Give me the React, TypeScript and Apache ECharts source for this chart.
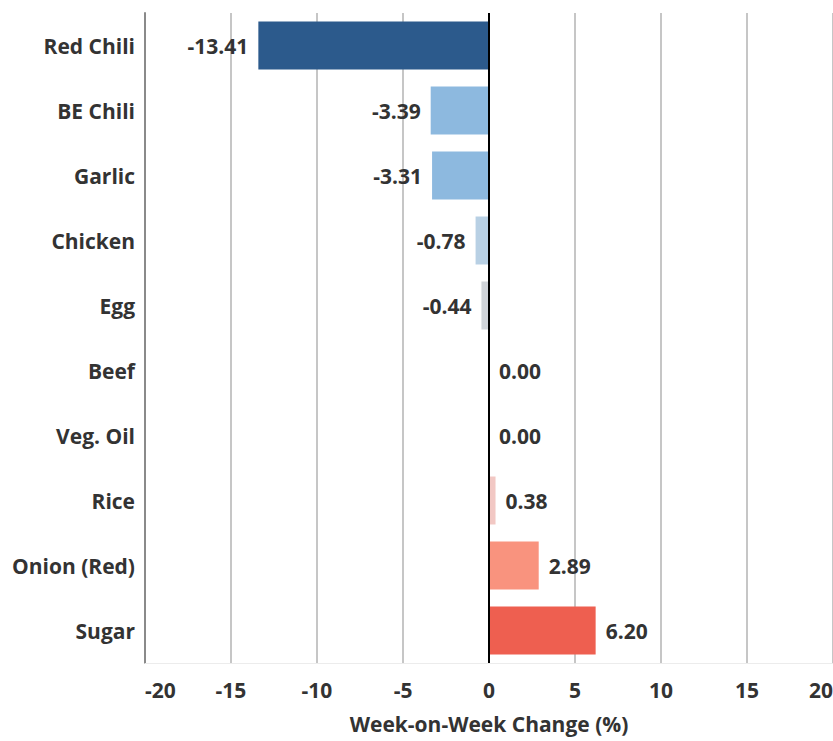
import React, { useEffect, useRef } from "react";
import * as echarts from "echarts";

const categories = [
  "Red Chili",
  "BE Chili",
  "Garlic",
  "Chicken",
  "Egg",
  "Beef",
  "Veg. Oil",
  "Rice",
  "Onion (Red)",
  "Sugar",
];

const changes = [-13.41, -3.39, -3.31, -0.78, -0.44, 0.0, 0.0, 0.38, 2.89, 6.2];

const barColors = [
  "#2c5a8c",
  "#8db9df",
  "#8db9df",
  "#b8d0e4",
  "#d0d4d9",
  "#d0d4d9",
  "#d0d4d9",
  "#f2c8c4",
  "#f9937e",
  "#ee5f50",
];

const axisMin = -20;
const axisMax = 20;
const axisStep = 5;

const FONT = "'Open Sans', 'DejaVu Sans', sans-serif";
const TEXT = "#333333";
const SIZE = 21;

export default function App() {
  const ref = useRef<HTMLDivElement>(null);

  useEffect(() => {
    if (!ref.current) return;
    const chart = echarts.init(ref.current, undefined, { renderer: "svg" });

    const data = changes.map((v, i) => ({
      value: v,
      itemStyle: { color: barColors[i] },
      label: { position: v < 0 ? "left" : "right" },
    }));

    chart.setOption({
      animation: false,
      backgroundColor: "#ffffff",
      grid: {
        left: 145,
        right: 0,
        top: 13,
        bottom: 78,
        containLabel: false,
        outerBoundsMode: "none",
      },
      xAxis: {
        type: "value",
        min: axisMin,
        max: axisMax,
        interval: axisStep,
        name: "Week-on-Week Change (%)",
        nameLocation: "middle",
        nameGap: 50,
        nameTextStyle: {
          fontFamily: FONT,
          fontSize: SIZE,
          fontWeight: "bold",
          color: TEXT,
        },
        axisLine: { show: true, lineStyle: { color: "#ececec", width: 1 } },
        axisTick: { show: false },
        axisLabel: {
          fontFamily: FONT,
          fontSize: SIZE,
          fontWeight: "bold",
          color: TEXT,
          margin: 16,
          alignMinLabel: "left",
          alignMaxLabel: "right",
        },
        splitLine: { show: true, lineStyle: { color: "#c6c6c6", width: 2 } },
      },
      yAxis: {
        type: "category",
        data: categories,
        inverse: true,
        axisLine: { show: true, onZero: false, lineStyle: { color: "#8a8a8a", width: 2 } },
        axisTick: { show: false },
        axisLabel: {
          fontFamily: FONT,
          fontSize: SIZE,
          fontWeight: "bold",
          color: TEXT,
          margin: 10,
        },
        splitLine: { show: false },
      },
      series: [
        {
          type: "bar",
          data,
          barWidth: 48,
          label: {
            show: true,
            distance: 10,
            fontFamily: FONT,
            fontSize: SIZE,
            fontWeight: "bold",
            color: TEXT,
            formatter: (p: any) => Number(p.value).toFixed(2),
          },
          markLine: {
            silent: true,
            symbol: "none",
            label: { show: false },
            lineStyle: { color: "#000000", width: 2, type: "solid" },
            data: [{ xAxis: 0 }],
          },
        },
      ],
    });

    return () => chart.dispose();
  }, []);

  return (
    <div
      ref={ref}
      style={{ position: "fixed", left: 0, top: 0, width: 833, height: 741 }}
    />
  );
}
